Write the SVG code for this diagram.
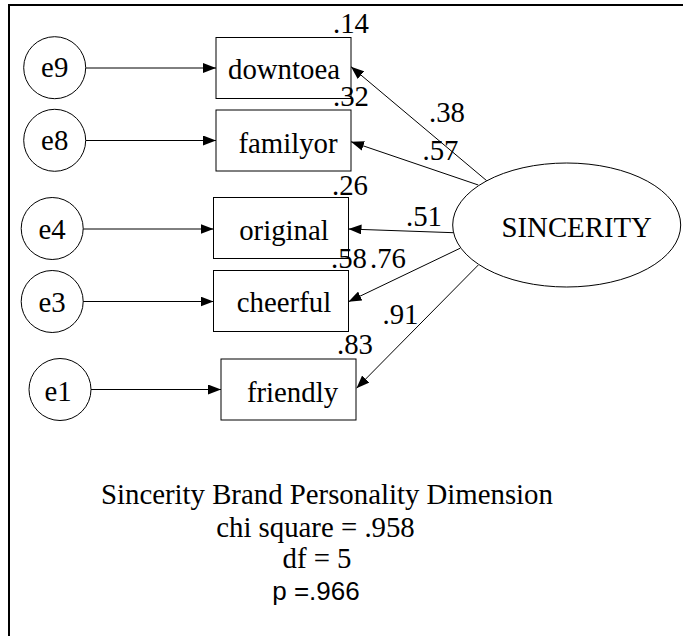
<svg xmlns="http://www.w3.org/2000/svg" width="683" height="636" viewBox="0 0 683 636">
<defs>
<style>
.t{font-family:"Liberation Serif","Times New Roman",serif;font-size:28.8px;fill:#000}
.m{text-anchor:middle}
.s{font-family:"Liberation Sans",Arial,sans-serif;font-size:26px;fill:#000}
.shape{fill:#fff;stroke:#000;stroke-width:1}
.c line{stroke:#000;stroke-width:1;marker-end:url(#ah)}
</style>
<marker id="ah" viewBox="0 0 13 10" refX="13" refY="5" markerWidth="13" markerHeight="10" markerUnits="userSpaceOnUse" orient="auto">
<path d="M0,0 L13,5 L0,10 z" fill="#000"/>
</marker>
</defs>
<rect width="683" height="636" fill="#fff"/>
<g id="frame">
<line x1="8" y1="5" x2="683" y2="5" stroke="#000" stroke-width="2"/>
<line x1="9" y1="4" x2="9" y2="636" stroke="#000" stroke-width="2"/>
</g>
<g class="c" id="connectors">
<line x1="86" y1="68" x2="216" y2="68"/>
<line x1="86" y1="140.5" x2="216" y2="140.5"/>
<line x1="83" y1="229" x2="213.5" y2="229"/>
<line x1="83" y1="301.5" x2="213.5" y2="301.5"/>
<line x1="91" y1="389.5" x2="221" y2="389.5"/>
<line x1="486.7" y1="180.7" x2="351" y2="66.7"/>
<line x1="478.3" y1="185" x2="351" y2="141.7"/>
<line x1="453.3" y1="232.7" x2="348.5" y2="229"/>
<line x1="460" y1="248.3" x2="348.5" y2="301.7"/>
<line x1="478.3" y1="265" x2="356.5" y2="388.3"/>
</g>
<g id="e9"><ellipse class="shape" cx="54.7" cy="67.7" rx="31" ry="31"/><text class="t m" x="54.7" y="77">e9</text></g>
<g id="e8"><ellipse class="shape" cx="54.7" cy="140.3" rx="31" ry="31"/><text class="t m" x="54.7" y="150">e8</text></g>
<g id="e4"><ellipse class="shape" cx="52.2" cy="228.5" rx="31" ry="31"/><text class="t m" x="52" y="239">e4</text></g>
<g id="e3"><ellipse class="shape" cx="52.2" cy="301.5" rx="31" ry="31"/><text class="t m" x="52" y="311.5">e3</text></g>
<g id="e1"><ellipse class="shape" cx="60" cy="389.5" rx="31" ry="31"/><text class="t m" x="58" y="400.5">e1</text></g>
<g id="downtoea"><rect class="shape" x="216" y="37.5" width="135" height="61"/><text class="t m" x="284" y="79">downtoea</text><text class="t" x="333" y="33">.14</text></g>
<g id="familyor"><rect class="shape" x="216" y="110" width="135" height="61"/><text class="t m" x="288" y="152.5">familyor</text><text class="t" x="333" y="106">.32</text></g>
<g id="original"><rect class="shape" x="213.5" y="197.5" width="135" height="61"/><text class="t m" x="284" y="240">original</text><text class="t" x="332" y="195">.26</text></g>
<g id="cheerful"><rect class="shape" x="213.5" y="270.5" width="135" height="61"/><text class="t m" x="284" y="311.5">cheerful</text><text class="t" x="331" y="268">.58</text></g>
<g id="friendly"><rect class="shape" x="221" y="359" width="135" height="61"/><text class="t m" x="292.5" y="401.5">friendly</text><text class="t" x="337" y="354">.83</text></g>
<g id="SINCERITY"><ellipse class="shape" cx="566.7" cy="225" rx="114" ry="62"/><text class="t m" x="576.7" y="236.5">SINCERITY</text></g>
<g id="loadings">
<text class="t" x="429" y="121.5">.38</text>
<text class="t" x="422.5" y="160">.57</text>
<text class="t" x="406" y="226">.51</text>
<text class="t" x="370" y="268">.76</text>
<text class="t" x="382.5" y="324">.91</text>
</g>
<g id="caption">
<text class="t" x="101" y="504">Sincerity Brand Personality Dimension</text>
<text class="t m" x="315.5" y="536.5">chi square = .958</text>
<text class="t m" x="317" y="568">df = 5</text>
<text class="s m" x="316" y="600">p =.966</text>
</g>
</svg>
